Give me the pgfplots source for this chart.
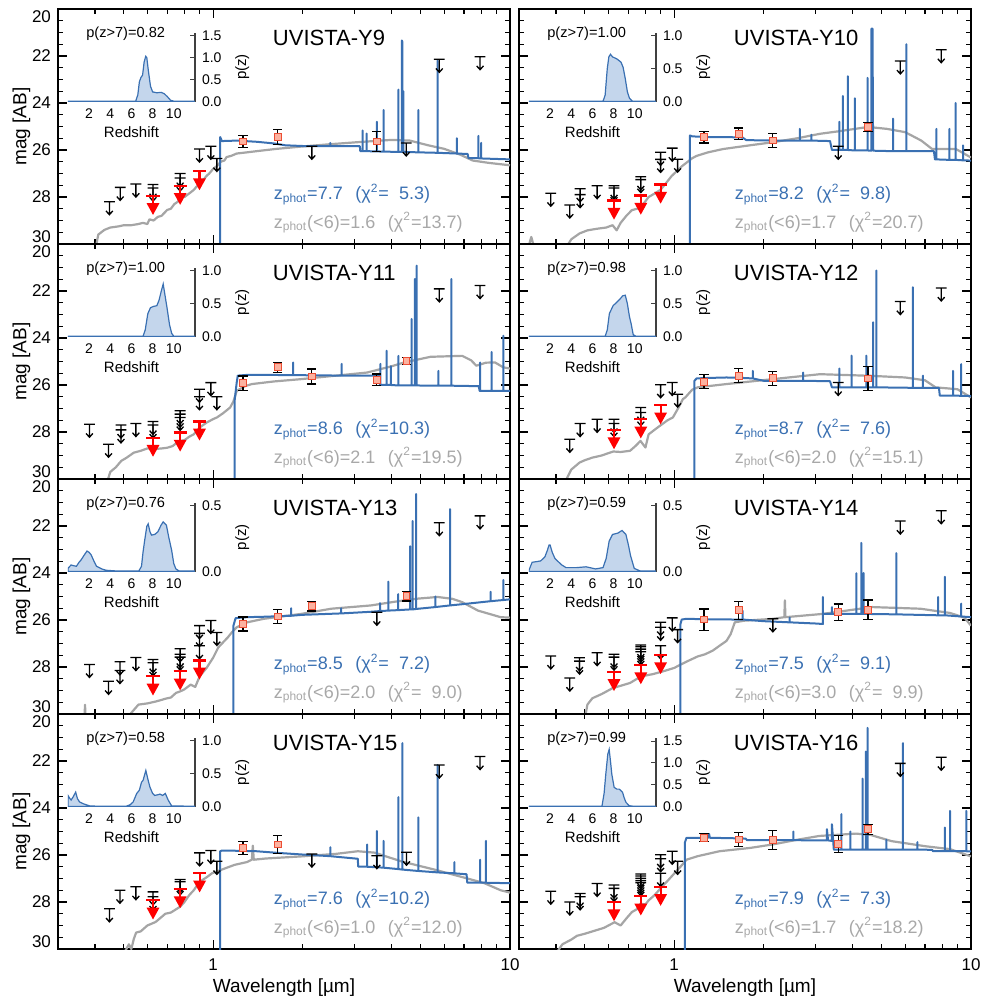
\documentclass[border=0pt]{standalone}
\usepackage{fontspec}
\setmainfont{Liberation Sans}
\usepackage{pgfplots}
\pgfplotsset{compat=1.18}
\usepgfplotslibrary{groupplots}

\definecolor{sedblue}{RGB}{58,112,178}
\definecolor{sedgray}{RGB}{165,165,165}
\definecolor{txtgray}{RGB}{168,168,168}
\definecolor{pzfill}{RGB}{196,214,236}
\definecolor{sqfill}{RGB}{252,178,160}
\definecolor{sqedge}{RGB}{236,78,52}

% upper limit: bar + thin arrow
\pgfdeclareplotmark{ulim}{%
  \pgfpathmoveto{\pgfqpoint{-2.7pt}{0pt}}\pgfpathlineto{\pgfqpoint{2.7pt}{0pt}}%
  \pgfpathmoveto{\pgfqpoint{0pt}{0pt}}\pgfpathlineto{\pgfqpoint{0pt}{-6.5pt}}%
  \pgfpathmoveto{\pgfqpoint{-1.7pt}{-4.6pt}}\pgfpathlineto{\pgfqpoint{0pt}{-6.5pt}}%
  \pgfpathlineto{\pgfqpoint{1.7pt}{-4.6pt}}%
  \pgfusepathqstroke}
% red upper limit: thick bar + filled head
\pgfdeclareplotmark{ulimr}{%
  \pgfpathmoveto{\pgfqpoint{-3.3pt}{0pt}}\pgfpathlineto{\pgfqpoint{3.3pt}{0pt}}%
  \pgfpathmoveto{\pgfqpoint{0pt}{0pt}}\pgfpathlineto{\pgfqpoint{0pt}{-4.5pt}}%
  \pgfusepathqstroke
  \pgfpathmoveto{\pgfqpoint{-2.3pt}{-4.2pt}}\pgfpathlineto{\pgfqpoint{2.3pt}{-4.2pt}}%
  \pgfpathlineto{\pgfqpoint{0pt}{-8.4pt}}\pgfpathclose
  \pgfusepathqfillstroke}

\pgfplotsset{
  sedpanel/.style={
    width=226pt, height=117.5pt, scale only axis,
    xmode=log, xmin=0.3, xmax=10, ymin=20, ymax=30, y dir=reverse,
    xtick={1,10}, xticklabels={},
    minor xtick={0.3,0.4,0.5,0.6,0.7,0.8,0.9,2,3,4,5,6,7,8,9},
    ytick={20,22,24,26,28,30}, minor y tick num=3,
    yticklabel={\pgfmathsetmacro\tk{int(round(\tick))}%
      \ifnum\tk<21 \raisebox{-3.6pt}[\height][\depth]{\tk}\else
      \ifnum\tk>29 \raisebox{3.6pt}[\height][\depth]{\tk}\else\tk\fi\fi},
    tick align=inside, major tick length=4.5pt, minor tick length=2.5pt,
    tick style={black, line width=0.6pt},
    axis line style={line width=0.75pt},
    tick label style={font=\fontsize{8.5}{10}\selectfont},
    xticklabel style={yshift=-1.5pt},
    label style={font=\fontsize{9.5}{11}\selectfont},
    xlabel style={yshift=3pt},
    ylabel shift=-6pt,
    /pgf/number format/assume math mode=true,
  },
  bsed/.style={sedblue, line width=1pt, line join=round, no marks},
  gsed/.style={sedgray, line width=1.1pt, line join=round, no marks},
  blim/.style={only marks, mark=ulim, black, mark options={line width=0.65pt}},
  rlim/.style={only marks, mark=ulimr, red, mark options={line width=1.1pt}},
  det/.style={only marks, mark=square*, mark size=1.7pt,
    mark options={fill=sqfill, draw=sqedge, line width=0.5pt},
    error bars/y dir=both, error bars/y explicit,
    error bars/error bar style={black, line width=0.6pt},
    error bars/error mark options={black, rotate=90, mark size=2.3pt, line width=0.6pt}},
  pzinset/.style={
    width=63.5pt, height=34.5pt, scale only axis, anchor=south west,
    xmin=0, xmax=12, ymin=0,
    axis x line*=bottom, axis y line*=right,
    x axis line style={draw=none}, xtick={2,4,6,8,10}, xtick style={draw=none},
    tick align=inside, major tick length=2.5pt,
    ytick style={black!75, line width=0.5pt},
    y axis line style={black!75, line width=0.6pt},
    tick label style={font=\fontsize{7}{8}\selectfont},
    yticklabel style={/pgf/number format/.cd, fixed, fixed zerofill, precision=1},
    /pgf/number format/assume math mode=true,
    xlabel={Redshift}, ylabel={p(z)},
    label style={font=\fontsize{7.5}{9}\selectfont},
    xlabel style={yshift=3pt},
  },
  pzline/.style={sedblue, line width=0.6pt, fill=pzfill},
}

\newcommand\annot[6]{%
  \node[anchor=base west, font=\fontsize{11}{13}\selectfont] at (rel axis cs:0.46,0.844) {#1};
  \node[anchor=base west, font=\fontsize{7.3}{8}\selectfont] at (rel axis cs:0.047,0.877) {p(z>7)=#2};
  \node[anchor=base west, font=\fontsize{9}{11}\selectfont, text=sedblue] at (rel axis cs:0.462,0.188)
    {z\textsubscript{phot}=#3\hspace{0.7em}(χ\textsuperscript{2}=#4)};
  \node[anchor=base west, font=\fontsize{9}{11}\selectfont, text=txtgray] at (rel axis cs:0.462,0.066)
    {z\textsubscript{phot}(<6)=#5\hspace{0.7em}(χ\textsuperscript{2}=#6)};
}

\begin{document}
\begin{tikzpicture}
\begin{groupplot}[group style={group size=2 by 4, horizontal sep=4.5pt, vertical sep=0pt}, sedpanel]

% ---------------- UVISTA-Y9
\nextgroupplot[ylabel={mag [AB]}]
\coordinate (tl) at (rel axis cs:0,1);
\coordinate (ins1) at (rel axis cs:0.022,0.606);
\addplot[gsed] coordinates {(0.40,30.3)(0.41,29.6)(0.43,29.4)(0.45,29.3)(0.48,29.25)(0.50,29.2)(0.53,29.2)(0.56,29.15)(0.58,29.1)(0.60,29.15)(0.61,28.95)(0.63,29.0)(0.65,28.85)(0.67,28.8)(0.70,28.55)(0.72,28.5)(0.74,28.3)(0.76,28.2)(0.78,27.98)(0.80,28.0)(0.83,27.85)(0.86,27.7)(0.88,27.55)(0.90,27.5)(0.93,27.25)(0.95,27.1)(0.97,27.0)(1.0,26.8)(1.03,26.68)(1.06,26.5)(1.09,26.45)(1.11,26.3)(1.15,26.25)(1.2,26.15)(1.3,26.1)(1.4,26.05)(1.64,25.95)(2.0,25.85)(2.5,25.75)(3.2,25.65)(4.0,25.57)(4.6,25.6)(5.3,25.8)(6.0,25.95)(6.8,26.2)(7.5,26.45)(8.5,26.55)(10,26.65)};
\addplot[bsed] coordinates {(1.056,31)(1.056,25.45)(1.07,25.62)(1.2,25.6)(1.4,25.65)(1.6,25.72)(1.75,25.8)(2.0,25.83)
 (2.48,25.84)(2.48,25.7)(2.48,25.84)(3.12,25.84)(3.13,26.05)
 (3.19,26.05)(3.19,25.17)(3.19,26.05)(3.29,26.05)(3.29,25.3)(3.29,26.05)
 (3.56,26.06)(3.56,24.8)(3.56,26.06)(3.75,26.07)(3.75,24.3)(3.75,26.07)
 (4.21,26.08)(4.21,23.43)(4.21,26.08)(4.32,26.08)(4.32,21.34)(4.34,21.4)(4.34,26.08)
 (4.37,26.08)(4.37,23.5)(4.37,26.08)(4.91,26.1)(4.91,24.3)(4.91,26.1)
 (5.7,26.12)(5.7,22.2)(5.7,26.12)(6.62,26.15)(6.62,25.5)(6.62,26.15)
 (7.2,26.17)(7.25,26.35)(7.83,26.35)(7.83,25.4)(7.83,26.35)(8.0,26.36)(8.0,25.7)(8.0,26.36)(10,26.4)};
\addplot[blim] coordinates {(0.447,28.2)(0.486,27.59)(0.549,27.45)(0.627,27.47)(0.627,27.62)(0.774,27.0)(0.774,27.19)(0.899,25.96)(0.982,25.84)(1.029,26.36)(2.15,25.84)(4.47,25.70)(5.78,22.14)(7.93,22.03)};
\addplot[rlim] coordinates {(0.627,27.95)(0.774,27.52)(0.899,26.9)};
\addplot[det] coordinates {(1.26,25.64) +- (0,0.27) (1.65,25.45) +- (0,0.33) (3.56,25.64) +- (0,0.43)};
\annot{UVISTA-Y9}{0.82}{7.7}{\hphantom{0}5.3}{1.6}{13.7}

% ---------------- UVISTA-Y10
\nextgroupplot[yticklabels={}]
\coordinate (ins2) at (rel axis cs:0.022,0.606);
\addplot[gsed] coordinates {(0.32,30.3)(0.33,29.7)(0.34,30.3)(0.43,30.2)(0.45,29.8)(0.48,29.55)(0.51,29.42)(0.55,29.35)(0.59,29.3)(0.62,29.2)(0.64,29.42)(0.66,29.1)(0.69,28.8)(0.72,28.56)(0.75,28.5)(0.79,28.27)(0.82,28.0)(0.86,27.85)(0.9,27.69)(0.94,27.4)(0.98,27.11)(1.02,26.9)(1.06,26.7)(1.1,26.54)(1.15,26.35)(1.19,26.25)(1.3,26.1)(1.46,25.96)(1.8,25.8)(2.15,25.67)(2.6,25.5)(3.1,25.31)(3.6,25.2)(4.5,25.02)(5.2,25.1)(6.0,25.24)(6.8,25.6)(7.4,25.96)(8.9,25.96)(10,26.32)};
\addplot[bsed] coordinates {(1.13,31)(1.13,25.38)(1.15,25.42)(1.3,25.45)(1.5,25.45)(1.7,25.47)(1.75,25.58)(2.2,25.6)
 (2.65,25.6)(2.65,25.1)(2.65,25.6)(2.9,25.6)(2.9,25.35)(2.9,25.6)(3.35,25.62)(3.4,26.0)
 (3.6,26.0)(3.6,24.8)(3.6,26.0)(3.7,26.0)(3.7,23.7)(3.7,26.0)(3.85,26.0)(3.85,22.86)(3.85,26.0)
 (4.06,26.02)(4.06,23.8)(4.06,26.02)(4.48,26.02)(4.48,22.93)(4.48,26.02)
 (4.62,26.03)(4.62,20.84)(4.66,20.84)(4.66,21.5)(4.68,26.03)
 (5.46,26.05)(5.46,24.66)(5.46,26.05)(6.06,26.05)(6.06,21.5)(6.06,26.05)
 (7.5,26.05)(7.56,26.4)(7.65,26.4)(7.65,25.1)(7.65,26.4)(8.46,26.42)(8.46,25.1)(8.46,26.42)
 (8.87,26.42)(8.87,24.0)(8.87,26.42)(9.4,26.44)(9.4,25.8)(9.4,26.44)(10,26.45)};
\addplot[blim] coordinates {(0.384,27.84)(0.445,28.34)(0.482,27.65)(0.482,27.9)(0.55,27.52)(0.627,27.52)(0.627,27.62)(0.772,27.14)(0.772,27.26)(0.90,26.1)(0.90,26.4)(0.985,25.92)(1.027,26.39)(3.57,25.84)(5.78,22.21)(7.94,21.73)};
\addplot[rlim] coordinates {(0.627,28.15)(0.772,27.94)(0.90,27.47)};
\addplot[det] coordinates {(1.26,25.45) +- (0,0.25) (1.65,25.31) +- (0,0.25) (2.15,25.6) +- (0,0.3) (4.5,25.02) +- (0,0.2)};
\annot{UVISTA-Y10}{1.00}{8.2}{\hphantom{0}9.8}{1.7}{20.7}

% ---------------- UVISTA-Y11
\nextgroupplot[ylabel={mag [AB]}]
\coordinate (ins3) at (rel axis cs:0.022,0.606);
\addplot[gsed] coordinates {(0.435,30.3)(0.45,29.7)(0.47,29.5)(0.49,29.23)(0.51,29.1)(0.54,28.88)(0.57,28.8)(0.6,28.7)(0.64,28.72)(0.67,28.7)(0.7,28.67)(0.73,28.6)(0.76,28.42)(0.774,28.38)(0.8,28.35)(0.83,28.2)(0.86,28.1)(0.88,27.95)(0.9,27.81)(0.95,27.6)(1.0,27.45)(1.03,27.38)(1.08,27.2)(1.14,26.96)(1.17,26.7)(1.2,26.25)(1.28,26.05)(1.35,25.96)(1.6,25.85)(1.98,25.75)(2.6,25.6)(3.3,25.47)(4.0,25.2)(4.4,25.04)(5.4,24.8)(6.9,24.76)(7.4,24.95)(7.7,25.18)(8.3,25.05)(8.9,25.04)(9.5,25.25)(10,25.3)};
\addplot[bsed] coordinates {(1.18,31)(1.18,26.7)(1.2,25.9)(1.21,25.6)(1.3,25.57)(1.5,25.57)
 (1.86,25.58)(1.86,25.04)(1.86,25.58)(2.71,25.6)(2.71,25.1)(2.71,25.6)(3.6,25.6)(3.65,26.0)
 (3.66,26.0)(3.66,25.1)(3.66,26.0)(3.84,26.0)(3.84,24.54)(3.84,26.0)(3.97,26.0)(3.97,25.2)(3.97,26.0)
 (4.21,26.02)(4.21,24.76)(4.21,26.02)(4.66,26.02)(4.66,23.19)(4.66,26.02)
 (4.78,26.02)(4.78,21.49)(4.78,26.02)(4.85,26.02)(4.85,20.92)(4.85,26.02)
 (5.74,26.03)(5.74,25.4)(5.74,26.03)(6.35,26.03)(6.35,21.49)(6.35,26.03)
 (7.85,26.05)(7.9,26.25)(7.93,26.25)(7.93,25.04)(7.93,26.25)(8.67,26.25)(8.67,24.6)(8.67,26.25)
 (9.5,26.25)(9.5,23.9)(9.5,26.25)(10,26.25)};
\addplot[blim] coordinates {(0.383,27.67)(0.444,28.52)(0.489,27.7)(0.489,27.91)(0.549,27.64)(0.627,27.55)(0.627,27.7)(0.774,27.1)(0.774,27.24)(0.774,27.38)(0.899,26.18)(0.899,26.5)(0.982,25.9)(1.029,26.5)(5.78,21.91)(7.93,21.77)};
\addplot[rlim] coordinates {(0.627,28.24)(0.774,28.02)(0.899,27.55)};
\addplot[det] coordinates {(1.26,25.92) +- (0,0.3) (1.65,25.25) +- (0,0.22) (2.15,25.64) +- (0,0.32) (3.56,25.78) +- (0,0.25) (4.48,24.97) +- (0,0.15)};
\annot{UVISTA-Y11}{1.00}{8.6}{10.3}{2.1}{19.5}

% ---------------- UVISTA-Y12
\nextgroupplot[yticklabels={}]
\coordinate (ins4) at (rel axis cs:0.022,0.606);
\addplot[gsed] coordinates {(0.43,30.1)(0.45,29.6)(0.48,29.3)(0.5,29.2)(0.53,29.09)(0.57,29.0)(0.6,28.9)(0.624,28.83)(0.66,28.85)(0.71,28.8)(0.74,28.6)(0.77,28.38)(0.8,28.66)(0.82,28.1)(0.86,27.9)(0.91,27.67)(0.95,27.5)(0.99,27.38)(1.03,27.0)(1.07,26.6)(1.09,26.53)(1.15,26.2)(1.2,26.1)(1.5,25.96)(2.15,25.75)(3.1,25.54)(4.6,25.61)(6.0,25.68)(7.0,25.8)(7.6,26.1)(9.0,26.18)(10,26.53)};
\addplot[bsed] coordinates {(1.17,31)(1.17,25.82)(1.19,25.72)(1.3,25.7)(1.5,25.68)(1.7,25.7)
 (1.84,25.72)(1.84,25.4)(1.84,25.72)(2.0,25.82)(2.72,25.82)(2.72,25.47)(2.72,25.82)(3.35,25.84)(3.4,26.1)
 (3.6,26.1)(3.6,25.3)(3.6,26.1)(3.96,26.1)(3.96,24.75)(3.96,26.1)(4.44,26.1)(4.44,24.75)(4.44,26.1)
 (4.68,26.1)(4.68,23.33)(4.68,26.1)(4.8,26.1)(4.8,21.13)(4.8,26.1)
 (6.37,26.12)(6.37,21.84)(6.37,26.12)(6.89,26.12)(6.89,25.6)(6.89,26.12)
 (7.8,26.12)(7.85,26.45)(8.7,26.45)(8.7,25.4)(8.7,26.45)(9.27,26.46)(9.27,25.11)(9.27,26.46)(10,26.47)};
\addplot[blim] coordinates {(0.445,28.31)(0.482,27.64)(0.55,27.46)(0.627,27.46)(0.627,27.64)(0.772,26.96)(0.772,27.17)(0.90,25.99)(0.985,25.89)(1.027,26.39)(3.57,25.89)(5.78,22.45)(7.94,21.87)};
\addplot[rlim] coordinates {(0.627,27.92)(0.772,27.46)(0.90,26.86)};
\addplot[det] coordinates {(1.26,25.86) +- (0,0.3) (1.65,25.61) +- (0,0.3) (2.15,25.71) +- (0,0.3) (4.5,25.72) +- (0,0.5)};
\annot{UVISTA-Y12}{0.98}{8.7}{\hphantom{0}7.6}{2.0}{15.1}

% ---------------- UVISTA-Y13
\nextgroupplot[ylabel={mag [AB]}]
\coordinate (ins5) at (rel axis cs:0.022,0.606);
\addplot[gsed] coordinates {(0.368,30.3)(0.37,29.61)(0.372,30.3)(0.51,30.2)(0.53,29.95)(0.56,29.6)(0.6,29.55)(0.64,29.47)(0.67,29.4)(0.69,29.35)(0.72,29.3)(0.75,29.1)(0.774,29.04)(0.8,28.95)(0.84,28.75)(0.87,28.85)(0.9,28.4)(0.95,28.04)(1.0,27.6)(1.04,27.17)(1.08,26.95)(1.12,26.74)(1.16,26.5)(1.2,26.31)(1.3,26.1)(1.48,25.95)(1.98,25.74)(2.5,25.52)(3.4,25.38)(4.2,25.2)(4.9,25.09)(5.7,25.02)(6.4,25.1)(6.9,25.24)(7.8,25.6)(9.3,25.88)(10,25.9)};
\addplot[bsed] coordinates {(1.17,31)(1.17,26.24)(1.19,25.92)(1.3,25.88)(1.5,25.86)(1.65,25.84)
 (1.83,25.82)(1.83,25.5)(1.83,25.82)(2.0,25.78)(2.7,25.72)(2.7,25.5)(2.7,25.72)
 (3.4,25.65)(3.65,25.62)(3.65,25.28)(3.65,25.62)(3.89,25.6)(3.89,24.37)(3.89,25.6)
 (4.2,25.58)(4.2,24.9)(4.2,25.58)(4.61,25.55)(4.61,22.86)(4.61,25.55)
 (4.7,25.55)(4.7,21.79)(4.7,25.55)(4.83,25.53)(4.83,20.64)(4.83,25.53)
 (5.6,25.45)(5.6,25.0)(5.6,25.45)(6.28,25.38)(6.28,21.28)(6.28,25.38)
 (7.0,25.32)(8.6,25.2)(8.6,24.8)(8.6,25.2)(9.5,25.15)(9.5,24.3)(9.5,25.15)(10,25.12)};
\addplot[blim] coordinates {(0.383,27.89)(0.444,28.61)(0.485,27.78)(0.485,28.15)(0.549,27.6)(0.627,27.68)(0.627,27.82)(0.774,27.22)(0.774,27.46)(0.774,27.58)(0.899,26.24)(0.899,26.57)(0.899,27.1)(0.982,26.02)(1.029,26.53)(3.56,25.67)(5.78,21.86)(7.93,21.57)};
\addplot[rlim] coordinates {(0.627,28.4)(0.774,28.18)(0.899,27.72)};
\addplot[det] coordinates {(1.26,26.17) +- (0,0.3) (1.65,25.85) +- (0,0.3) (2.15,25.42) +- (0,0.2) (4.48,24.99) +- (0,0.2)};
\annot{UVISTA-Y13}{0.76}{8.5}{\hphantom{0}7.2}{2.0}{\hphantom{0}9.0}

% ---------------- UVISTA-Y14
\nextgroupplot[yticklabels={}]
\coordinate (ins6) at (rel axis cs:0.022,0.606);
\addplot[gsed] coordinates {(0.5,30.2)(0.51,29.6)(0.53,29.33)(0.57,29.15)(0.62,28.9)(0.66,28.8)(0.71,28.68)(0.75,28.5)(0.78,28.39)(0.85,28.3)(0.92,28.18)(1.0,28.04)(1.05,27.9)(1.11,27.75)(1.2,27.55)(1.27,27.46)(1.35,27.3)(1.42,27.1)(1.5,26.89)(1.55,26.6)(1.6,26.1)(1.72,26.03)(2.15,25.95)(2.35,25.88)(2.36,25.16)(2.37,25.88)(3.17,25.74)(4.64,25.45)(6.75,25.52)(8.5,25.7)(9.5,25.9)(10,26.24)};
\addplot[bsed] coordinates {(1.05,31)(1.05,26.17)(1.06,25.98)(1.1,25.95)(1.3,25.97)(1.6,25.98)
 (1.7,25.98)(1.7,25.6)(1.7,25.98)(2.0,26.05)(2.45,26.1)(2.45,25.9)(2.45,26.1)
 (3.0,26.15)(3.17,26.17)(3.17,25.02)(3.17,25.74)(3.4,25.74)(3.4,25.45)(3.4,25.74)
 (4.11,25.74)(4.11,24.01)(4.11,25.74)(4.27,25.74)(4.27,22.72)(4.27,25.74)(4.35,25.74)(4.35,24.0)(4.35,25.74)
 (5.6,25.76)(5.6,23.15)(5.6,25.76)(7.75,25.8)(7.75,25.02)(7.75,25.8)(8.16,25.8)(8.16,24.16)(8.16,25.8)
 (9.27,25.85)(9.27,25.3)(9.27,25.85)(10,25.88)};
\addplot[blim] coordinates {(0.384,27.53)(0.445,28.47)(0.48,27.61)(0.48,27.75)(0.55,27.39)(0.627,27.46)(0.627,27.58)(0.772,27.06)(0.772,27.14)(0.772,27.24)(0.772,27.35)(0.90,26.1)(0.90,26.31)(0.90,27.1)(0.985,25.91)(1.027,26.41)(2.15,25.95)(5.78,21.79)(7.94,21.35)};
\addplot[rlim] coordinates {(0.627,28.21)(0.772,27.92)(0.90,27.49)};
\addplot[det] coordinates {(1.26,25.98) +- (0,0.45) (1.65,25.59) +- (0,0.38) (3.57,25.67) +- (0,0.35) (4.5,25.57) +- (0,0.42)};
\annot{UVISTA-Y14}{0.59}{7.5}{\hphantom{0}9.1}{3.0}{\hphantom{0}9.9}

% ---------------- UVISTA-Y15
\nextgroupplot[ylabel={mag [AB]}, xticklabels={1,10}, xlabel={Wavelength [µm]}]
\coordinate (ins7) at (rel axis cs:0.022,0.606);
\addplot[gsed] coordinates {(0.5,30.2)(0.52,29.8)(0.53,30.0)(0.54,29.58)(0.55,29.3)(0.57,29.25)(0.6,29.0)(0.64,28.85)(0.69,28.5)(0.72,28.45)(0.774,28.2)(0.8,28.0)(0.83,27.71)(0.86,27.5)(0.9,27.14)(0.95,26.95)(0.99,26.78)(1.08,26.6)(1.18,26.42)(1.3,26.3)(1.35,26.2)(1.36,25.6)(1.37,26.2)(1.5,26.15)(1.98,26.06)(2.6,25.95)(3.07,25.84)(3.5,25.9)(4.3,26.27)(5.6,26.63)(7.14,26.99)(8.2,27.2)(9.3,27.5)(10,27.6)};
\addplot[bsed] coordinates {(1.056,31)(1.056,25.84)(1.07,25.81)(1.2,25.82)(1.4,25.84)(1.65,25.91)(2.0,25.98)
 (2.48,26.05)(2.48,25.67)(2.48,26.05)(3.07,26.16)(3.08,26.49)
 (3.3,26.5)(3.3,25.55)(3.3,26.5)(3.56,26.52)(3.56,24.98)(3.56,26.52)(3.75,26.54)(3.75,25.4)(3.75,26.54)
 (4.21,26.6)(4.21,23.54)(4.21,26.6)(4.34,26.62)(4.34,21.24)(4.34,26.62)(4.91,26.68)(4.91,24.4)(4.91,26.68)
 (5.7,26.74)(5.7,22.17)(5.7,26.74)(6.5,26.78)(6.5,26.3)(6.5,26.78)(7.14,26.82)(7.18,27.18)
 (7.93,27.18)(7.93,26.2)(7.93,27.18)(8.3,27.18)(8.3,25.4)(8.3,27.18)(10,27.2)};
\addplot[blim] coordinates {(0.447,28.29)(0.485,27.5)(0.549,27.35)(0.627,27.57)(0.627,27.78)(0.774,27.04)(0.774,27.14)(0.90,25.91)(0.982,25.81)(1.029,26.27)(2.15,25.96)(3.56,26.03)(4.48,25.88)(5.78,22.17)(7.93,21.81)};
\addplot[rlim] coordinates {(0.627,27.93)(0.774,27.45)(0.90,26.78)};
\addplot[det] coordinates {(1.26,25.7) +- (0,0.28) (1.65,25.55) +- (0,0.38)};
\annot{UVISTA-Y15}{0.58}{7.6}{10.2}{1.0}{12.0}

% ---------------- UVISTA-Y16
\nextgroupplot[yticklabels={}, xticklabels={1,10}, xlabel={Wavelength [µm]}]
\coordinate (ins8) at (rel axis cs:0.022,0.606);
\addplot[gsed] coordinates {(0.40,30.2)(0.42,29.8)(0.45,29.6)(0.47,29.44)(0.5,29.35)(0.54,29.22)(0.58,29.1)(0.63,28.86)(0.66,29.0)(0.69,28.7)(0.72,28.43)(0.75,28.3)(0.77,28.07)(0.8,28.1)(0.82,27.93)(0.86,27.7)(0.91,27.35)(0.95,27.1)(0.99,26.85)(1.05,26.5)(1.1,26.2)(1.2,26.05)(1.42,25.84)(1.8,25.7)(2.15,25.55)(2.6,25.35)(3.08,25.19)(4.1,25.09)(4.6,25.15)(5.4,25.41)(7.05,25.63)(8.5,25.75)(10,26.06)};
\addplot[bsed] coordinates {(1.086,31)(1.086,25.48)(1.1,25.27)(1.3,25.27)(1.31,25.1)(1.32,25.27)(1.5,25.28)(1.74,25.3)(1.76,25.37)(2.2,25.37)
 (2.52,25.37)(2.52,25.0)(2.52,25.37)(3.27,25.38)(3.27,24.9)(3.3,25.38)(3.4,25.4)(3.4,24.69)(3.45,25.77)
 (3.66,25.77)(3.66,24.26)(3.66,25.77)(3.92,25.77)(3.92,25.0)(3.92,25.77)
 (4.31,25.77)(4.31,22.75)(4.31,25.77)(4.42,25.77)(4.42,21.6)(4.42,25.77)(4.48,25.77)(4.48,20.59)(4.48,25.77)
 (5.19,25.77)(5.19,25.35)(5.19,25.77)(5.9,25.77)(5.9,21.24)(5.9,25.77)(6.6,25.77)(6.6,25.45)(6.6,25.77)
 (7.4,25.78)(7.45,25.84)(8.16,25.84)(8.16,24.83)(8.16,25.84)(8.5,25.84)(8.5,24.12)(8.5,25.84)
 (9.64,25.84)(9.64,24.12)(9.64,25.84)(10,25.85)};
\addplot[blim] coordinates {(0.384,27.54)(0.445,28.0)(0.482,27.64)(0.482,27.78)(0.55,27.21)(0.627,27.28)(0.627,27.42)(0.772,26.81)(0.772,26.89)(0.772,26.99)(0.772,27.09)(0.772,27.18)(0.90,25.99)(0.90,26.16)(0.90,26.78)(0.985,25.84)(1.027,26.27)(5.78,22.1)(7.94,21.84)};
\addplot[rlim] coordinates {(0.627,28.0)(0.772,27.76)(0.90,27.35)};
\addplot[det] coordinates {(1.26,25.27) +- (0,0.17) (1.65,25.34) +- (0,0.3) (2.15,25.37) +- (0,0.4) (3.57,25.53) +- (0,0.35) (4.5,24.91) +- (0,0.22)};
\annot{UVISTA-Y16}{0.99}{7.9}{\hphantom{0}7.3}{1.7}{18.2}
\end{groupplot}

% ---------------- p(z) insets
\begin{axis}[pzinset, at={(ins1)}, ymax=1.57, ytick={0,0.5,1,1.5}]
\addplot[pzline] coordinates {(0,0.01)(6.4,0.01)(6.6,0.15)(6.75,0.45)(6.9,0.55)(7.05,0.6)(7.2,0.9)(7.35,1.03)(7.45,1.0)(7.6,0.7)(7.8,0.35)(8.0,0.22)(8.4,0.2)(8.8,0.21)(9.1,0.18)(9.4,0.11)(9.7,0.03)(10,0.01)(12,0.01)} \closedcycle;
\end{axis}
\begin{axis}[pzinset, at={(ins2)}, ymax=1.05, ytick={0,0.5,1}]
\addplot[pzline] coordinates {(0,0.005)(7.0,0.005)(7.2,0.1)(7.4,0.5)(7.55,0.68)(7.7,0.72)(7.9,0.68)(8.3,0.65)(8.7,0.6)(8.9,0.52)(9.1,0.35)(9.3,0.15)(9.5,0.05)(9.8,0.005)(12,0.005)} \closedcycle;
\end{axis}
\begin{axis}[pzinset, at={(ins3)}, ymax=1.05, ytick={0,0.5,1}]
\addplot[pzline] coordinates {(0,0.005)(7.1,0.005)(7.3,0.1)(7.55,0.35)(7.8,0.44)(8.1,0.46)(8.4,0.47)(8.6,0.55)(8.8,0.68)(9.0,0.8)(9.15,0.65)(9.35,0.45)(9.6,0.18)(9.8,0.05)(10.0,0.005)(12,0.005)} \closedcycle;
\end{axis}
\begin{axis}[pzinset, at={(ins4)}, ymax=1.05, ytick={0,0.5,1}]
\addplot[pzline] coordinates {(0,0.005)(7.2,0.005)(7.4,0.1)(7.6,0.35)(7.95,0.47)(8.35,0.53)(8.6,0.57)(8.85,0.62)(9.1,0.63)(9.3,0.5)(9.5,0.3)(9.65,0.2)(9.85,0.03)(10.1,0.005)(12,0.005)} \closedcycle;
\end{axis}
\begin{axis}[pzinset, at={(ins5)}, ymax=0.52, ytick={0,0.5}]
\addplot[pzline] coordinates {(0,0.025)(0.3,0.05)(0.5,0.045)(0.8,0.04)(1.05,0.07)(1.26,0.09)(1.5,0.12)(1.8,0.155)(2.0,0.145)(2.2,0.125)(2.45,0.08)(2.7,0.04)(3.2,0.02)(3.6,0.01)(4.5,0.005)(6.7,0.005)(6.95,0.04)(7.1,0.15)(7.26,0.24)(7.45,0.34)(7.58,0.36)(7.75,0.3)(7.9,0.275)(8.2,0.28)(8.5,0.3)(8.8,0.35)(9.0,0.375)(9.3,0.35)(9.55,0.25)(9.8,0.16)(10.0,0.06)(10.2,0.02)(10.5,0.005)(12,0.005)} \closedcycle;
\end{axis}
\begin{axis}[pzinset, at={(ins6)}, ymax=0.52, ytick={0,0.5}]
\addplot[pzline] coordinates {(0,0.01)(0.3,0.07)(0.7,0.075)(1.1,0.08)(1.5,0.11)(1.74,0.16)(1.9,0.2)(2.0,0.2)(2.2,0.145)(2.45,0.1)(2.7,0.08)(3.1,0.05)(3.5,0.03)(4.5,0.03)(5.4,0.036)(6.3,0.02)(7.0,0.03)(7.3,0.1)(7.58,0.23)(7.9,0.28)(8.4,0.29)(8.8,0.31)(9.16,0.28)(9.4,0.2)(9.6,0.12)(9.95,0.024)(10.5,0.005)(12,0.005)} \closedcycle;
\end{axis}
\begin{axis}[pzinset, at={(ins7)}, ymax=1.05, ytick={0,0.5,1}]
\addplot[pzline] coordinates {(0,0.17)(0.15,0.13)(0.3,0.1)(0.5,0.15)(0.73,0.22)(0.9,0.12)(1.1,0.07)(1.5,0.04)(2.05,0.01)(3,0.005)(5.5,0.005)(5.9,0.03)(6.16,0.07)(6.5,0.2)(6.75,0.25)(6.95,0.37)(7.1,0.4)(7.36,0.55)(7.55,0.42)(7.74,0.3)(8.0,0.2)(8.2,0.17)(8.5,0.18)(8.7,0.19)(8.95,0.17)(9.2,0.2)(9.47,0.1)(9.8,0.01)(12,0.005)} \closedcycle;
\end{axis}
\begin{axis}[pzinset, at={(ins8)}, ymax=1.58, ytick={0,0.5,1,1.5}]
\addplot[pzline] coordinates {(0,0.01)(6.9,0.01)(7.1,0.3)(7.26,0.74)(7.45,1.2)(7.58,1.31)(7.7,1.05)(7.83,0.74)(8.05,0.44)(8.3,0.4)(8.53,0.4)(8.84,0.33)(9.0,0.2)(9.16,0.1)(9.47,0.02)(9.8,0.01)(12,0.01)} \closedcycle;
\end{axis}

\pgfresetboundingbox
\path[use as bounding box] (tl) ++(-29pt,4.5pt) rectangle ++(490.5pt,-500pt);
\end{tikzpicture}
\end{document}
